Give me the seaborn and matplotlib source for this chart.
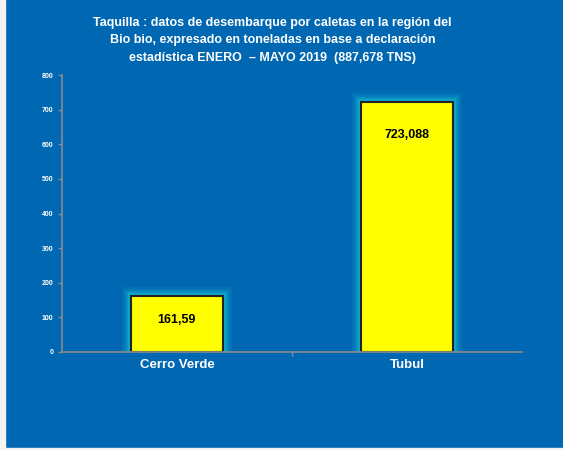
import matplotlib
matplotlib.use("Agg")
import matplotlib.pyplot as plt
import matplotlib.patheffects as pe
import seaborn as sns
import pandas as pd

caletas = ["Cerro Verde", "Tubul"]
toneladas = [161.59, 723.088]
etiquetas = ["161,59", "723,088"]
y_ticks = [0, 100, 200, 300, 400, 500, 600, 700, 800]

titulo = ("Taquilla : datos de desembarque por caletas en la región del\n"
          "Bio bio, expresado en toneladas en base a declaración\n"
          "estadística ENERO  – MAYO 2019  (887,678 TNS)")

df = pd.DataFrame({"caleta": caletas, "ton": toneladas})

sns.set_theme(style="white")
plt.rcParams["font.family"] = ["Liberation Sans", "DejaVu Sans"]

BG = "#0067B3"
fig = plt.figure(figsize=(5.63, 4.5), dpi=100, facecolor=BG)
ax = fig.add_axes([0.110, 0.2178, 0.817, 0.6155])
ax.set_facecolor(BG)

sns.barplot(data=df, x="caleta", y="ton", ax=ax, width=0.4,
            color="#FFFF00", edgecolor="#222222", linewidth=1.5,
            saturation=1, errorbar=None)

glow = [pe.Stroke(linewidth=w, foreground="#18C8D8", alpha=a)
        for w, a in [(13, 0.10), (10, 0.15), (7, 0.25), (4.5, 0.4)]]
for bar in ax.patches:
    bar.set_path_effects(glow + [pe.Normal()])

# value labels sit inside the bar, a little below its top edge (offsets in points)
label_drop = [-17, -24]
for i, (v, lab) in enumerate(zip(toneladas, etiquetas)):
    ax.annotate(lab, (i, v), xytext=(0, label_drop[i]), textcoords="offset points",
                ha="center", va="center", fontsize=9, fontweight="bold",
                color="black")

ax.set_xlim(-0.5, 1.5)
ax.set_ylim(0, 800)
ax.set_yticks(y_ticks)
ax.set_yticklabels([str(t) for t in y_ticks], fontsize=5,
                   fontweight="bold", color="white")
ax.set_xticks(range(len(caletas)))
ax.set_xticklabels(caletas, fontsize=9.5, fontweight="bold", color="white")
ax.set_xticks([0.5], minor=True)
ax.set_xlabel("")
ax.set_ylabel("")

for side in ["top", "right"]:
    ax.spines[side].set_visible(False)
for side in ["left", "bottom"]:
    ax.spines[side].set_color("#8C8C8C")
    ax.spines[side].set_linewidth(1.2)

ax.tick_params(axis="y", which="major", direction="out", length=3,
               color="#8C8C8C", width=1, pad=3, left=True)
ax.tick_params(axis="x", which="major", length=0, pad=5)
ax.tick_params(axis="x", which="minor", direction="out", length=3,
               color="#8C8C8C", width=1, bottom=True)

fig.text(0.484, 0.962, titulo, ha="center", va="top", fontsize=9.0,
         fontweight="bold", color="white", linespacing=1.6)

# thin light margin on the left and bottom edges
fig.patches.append(plt.Rectangle((0, 0), 0.009, 1, transform=fig.transFigure,
                                 color="#F4F4F4", zorder=10))
fig.patches.append(plt.Rectangle((0, 0), 1, 0.004, transform=fig.transFigure,
                                 color="#F4F4F4", zorder=10))

fig.savefig("out.png", dpi=100, facecolor=BG)
